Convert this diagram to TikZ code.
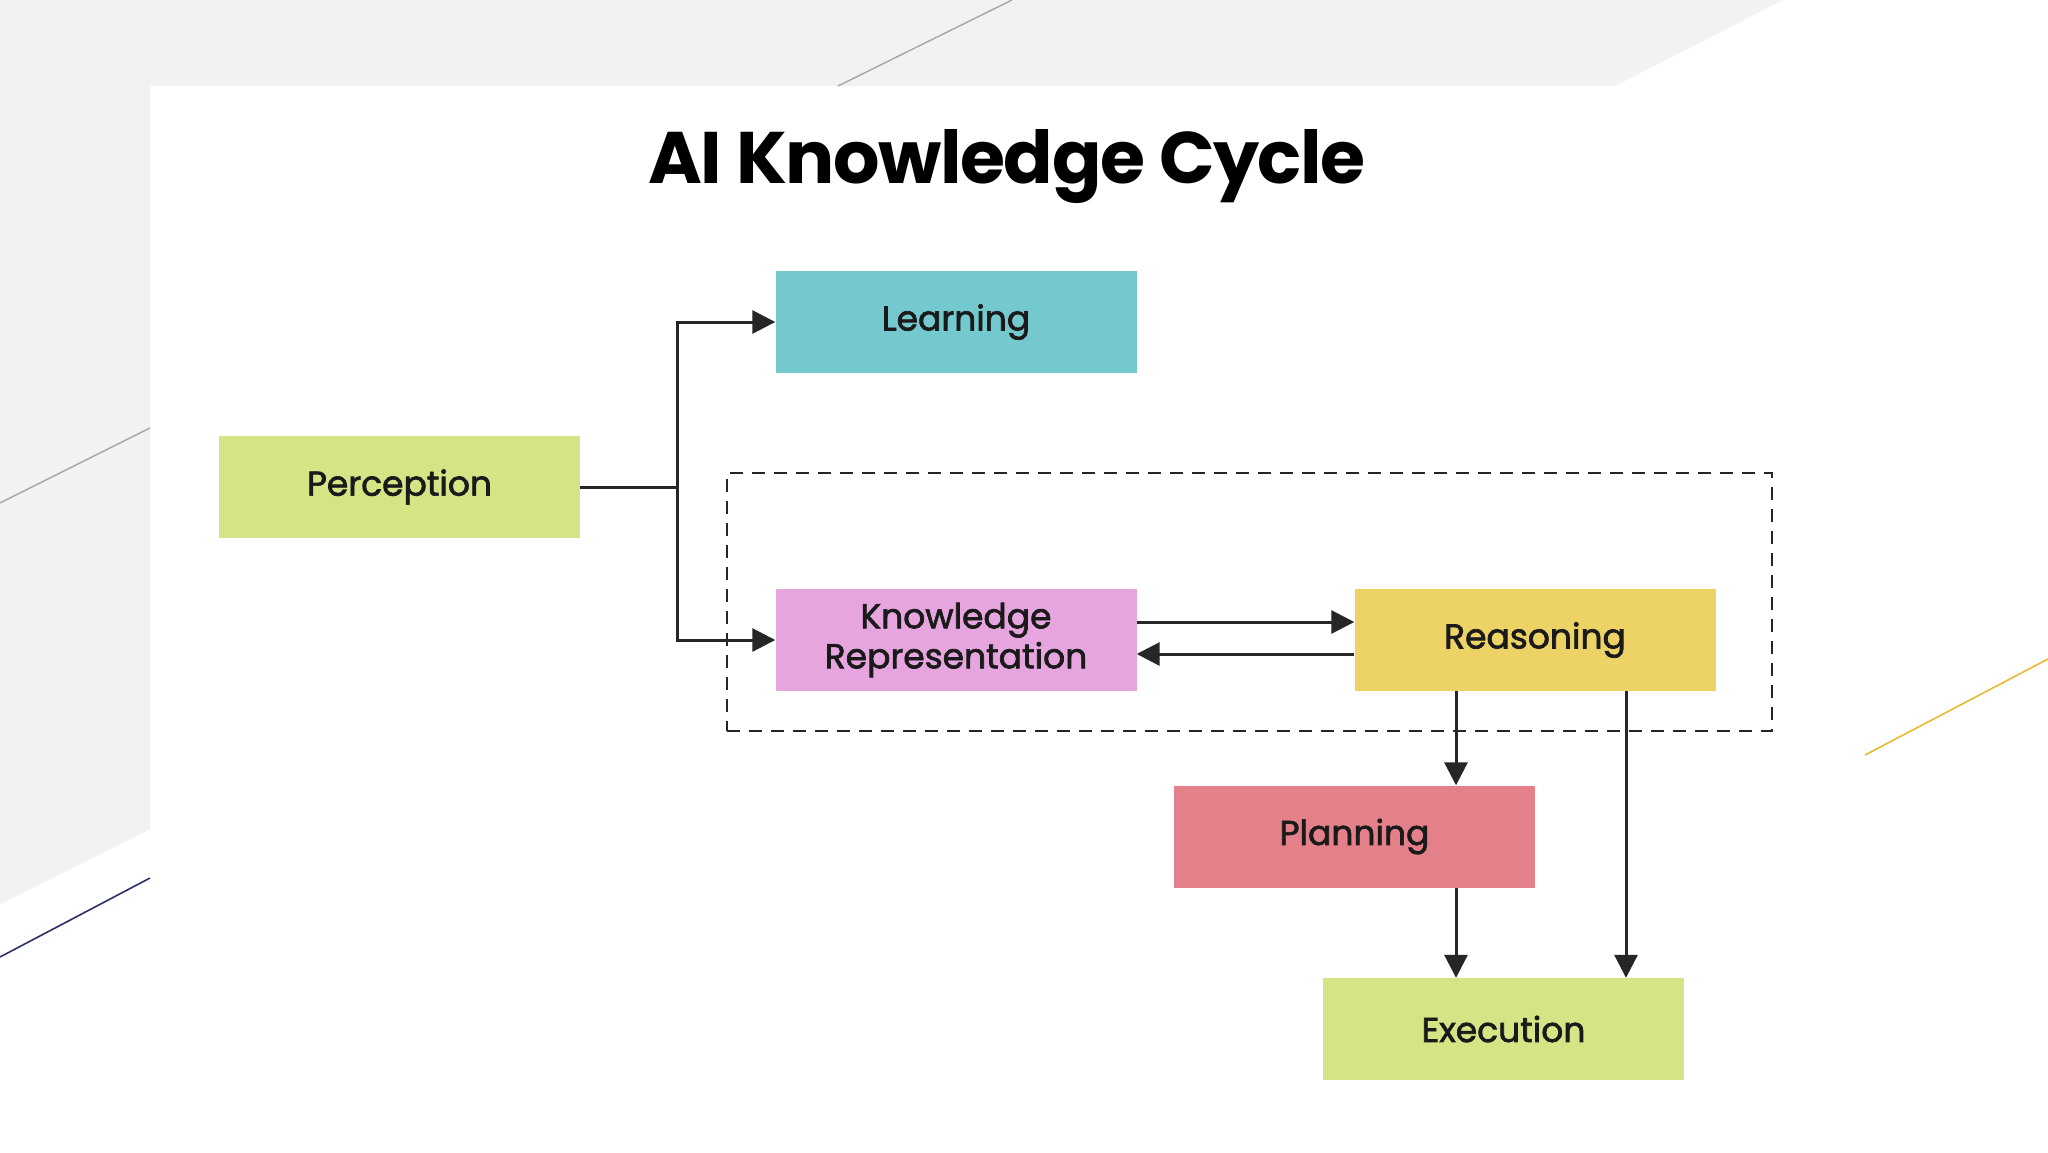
\documentclass[tikz,border=0pt]{standalone}
\usepackage{fontspec}
\setmainfont{Poppins}
\usetikzlibrary{arrows.meta}
\definecolor{bggray}{HTML}{F2F2F2}
\definecolor{linegray}{HTML}{A6A6A6}
\definecolor{navy}{HTML}{2B2F6B}
\definecolor{goldline}{HTML}{E8B931}
\definecolor{cteal}{HTML}{74C9CF}
\definecolor{clime}{HTML}{D5E585}
\definecolor{cpink}{HTML}{E6A5DE}
\definecolor{cgold}{HTML}{EDD265}
\definecolor{cred}{HTML}{E48089}
\definecolor{inkc}{HTML}{1A1A1A}
\definecolor{wirec}{HTML}{262626}
\newfontfamily\boxfont[FakeBold=2]{Poppins}
\newfontfamily\titlefont[LetterSpace=-2]{Poppins Bold}
\tikzset{
  box/.style={draw=none, minimum width=361pt, minimum height=102pt, inner sep=0pt,
    font=\boxfont\fontsize{34.5}{40}\selectfont, text=inkc, align=center},
  wire/.style={draw=wirec, line width=3pt},
  arr/.style={wire, -{Triangle[length=23pt,width=23pt]}},
}
\begin{document}
\begin{tikzpicture}[x=1pt,y=-1pt]
\useasboundingbox (0,0) rectangle (2048,1152);
\fill[white] (0,0) rectangle (2048,1152);
% background decorations
\fill[bggray] (0,0) -- (1783,0) -- (1615,86) -- (150,86) -- (150,829) -- (0,904) -- cycle;
\draw[linegray, line width=1.4pt] (1012,0) -- (838,86);
\draw[linegray, line width=1.4pt] (0,503) -- (150,428);
\draw[navy, line width=1.6pt] (0,957) -- (150,878);
\draw[goldline, line width=1.6pt] (1865,755) -- (2048,659);
% title
\node[anchor=base, font=\titlefont\fontsize{73}{80}\selectfont, text=black, inner sep=0pt] (title) at (1007,183) {AI Knowledge Cycle};
% dashed group
\node[draw=wirec, dashed, dash pattern=on 13pt off 9pt, line width=2.8pt, minimum width=1045pt, minimum height=258pt, inner sep=0pt] (group) at (1249.5,602) {};
% nodes
\node[box, fill=cteal] (learn) at (956,322) {Learning};
\node[box, fill=clime] (perc) at (399.5,487) {Perception};
\node[box, fill=cpink] (kr) at (956,640) {Knowledge\\Representation};
\node[box, fill=cgold] (reas) at (1535,640) {Reasoning};
\node[box, fill=cred] (plan) at (1354.5,836.5) {Planning};
\node[box, fill=clime] (exec) at (1503.5,1029) {Execution};
% connectors
\coordinate (split) at (677,487);
\draw[wire] (perc.east) -- (split);
\draw[arr] (split) |- (learn.west);
\draw[arr] (split) |- (kr.west);
\draw[arr] (kr.east |- 0,622) -- (reas.west |- 0,622);
\draw[arr] (reas.west |- 0,654) -- (kr.east |- 0,654);
\draw[arr] (1456,691) -- (plan.north -| 1456,0);
\draw[arr] (1626,691) -- (exec.north -| 1626,0);
\draw[arr] (1456,888) -- (exec.north -| 1456,0);
\end{tikzpicture}
\end{document}
